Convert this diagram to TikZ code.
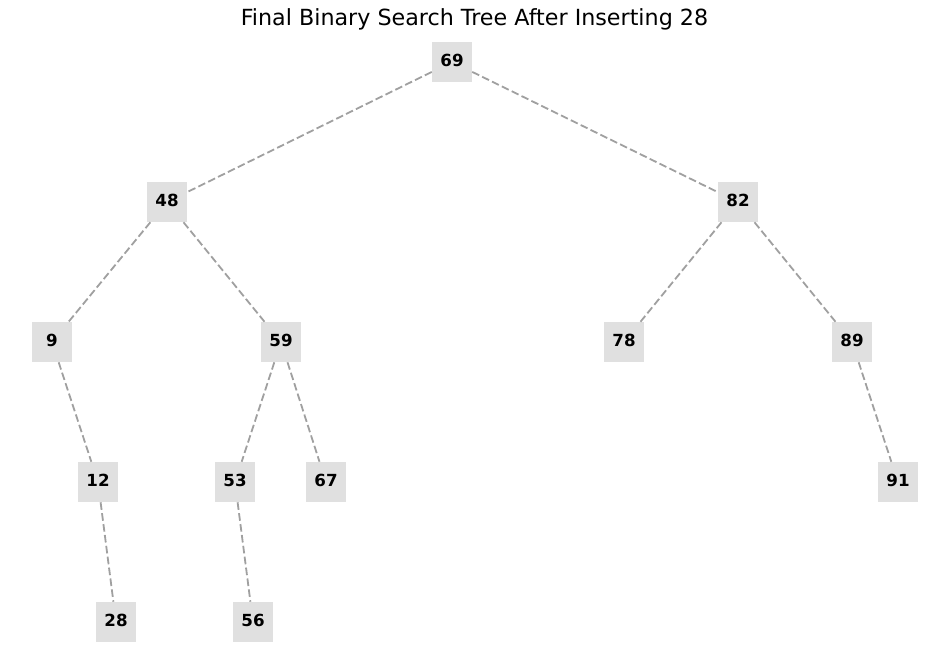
\documentclass[tikz,border=0pt]{standalone}
\usepackage{fontspec}
\setmainfont{DejaVu Sans}
\definecolor{nodegray}{HTML}{E0E0E0}
\definecolor{edgegray}{HTML}{A0A0A0}
\begin{document}
\begin{tikzpicture}[x=0.72pt,y=-0.72pt,
  treenode/.style={fill=nodegray,minimum width=28.8pt,minimum height=28.8pt,inner sep=0pt,text height=8.8pt,text depth=2.6pt,font=\fontsize{12}{14}\selectfont\bfseries},
  treeedge/.style={draw=edgegray,line width=1.3pt,dash pattern=on 5.5pt off 2.4pt}]
\useasboundingbox (0,0) rectangle (950,660);
\node[font=\fontsize{16}{19}\selectfont] (title) at (474.5,19) {Final Binary Search Tree After Inserting 28};
\node[treenode] (n69) at (452,62) {69};
\node[treenode] (n48) at (167,202) {48};
\node[treenode] (n82) at (738,202) {82};
\node[treenode] (n9) at (52,342) {9};
\node[treenode] (n59) at (281,342) {59};
\node[treenode] (n78) at (624,342) {78};
\node[treenode] (n89) at (852,342) {89};
\node[treenode] (n12) at (98,482) {12};
\node[treenode] (n53) at (235,482) {53};
\node[treenode] (n67) at (326,482) {67};
\node[treenode] (n91) at (898,482) {91};
\node[treenode] (n28) at (116,622) {28};
\node[treenode] (n56) at (253,622) {56};
\draw[treeedge] (n69) -- (n48);
\draw[treeedge] (n69) -- (n82);
\draw[treeedge] (n48) -- (n9);
\draw[treeedge] (n48) -- (n59);
\draw[treeedge] (n82) -- (n78);
\draw[treeedge] (n82) -- (n89);
\draw[treeedge] (n9) -- (n12);
\draw[treeedge] (n59) -- (n53);
\draw[treeedge] (n59) -- (n67);
\draw[treeedge] (n89) -- (n91);
\draw[treeedge] (n12) -- (n28);
\draw[treeedge] (n53) -- (n56);
\end{tikzpicture}
\end{document}
